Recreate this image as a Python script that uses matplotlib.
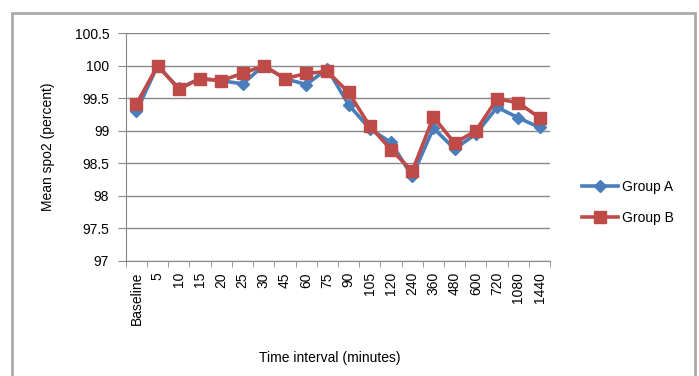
import numpy as np
import matplotlib.pyplot as plt
from matplotlib.patches import Rectangle

# ----------------------------------------
# Mean SpO2 per time interval
intervals = ['Baseline', '5', '10', '15', '20', '25', '30', '45', '60', '75',
             '90', '105', '120', '240', '360', '480', '600', '720', '1080', '1440']
group_a = [99.30, 100.0, 99.65, 99.80, 99.77, 99.72, 100.0, 99.80, 99.71, 99.95,
           99.40, 99.03, 98.82, 98.30, 99.04, 98.72, 98.95, 99.36, 99.20, 99.05]
group_b = [99.41, 100.0, 99.64, 99.80, 99.77, 99.88, 100.0, 99.80, 99.88, 99.91,
           99.59, 99.07, 98.71, 98.38, 99.21, 98.81, 99.00, 99.49, 99.43, 99.20]
y_ticks = [97, 97.5, 98, 98.5, 99, 99.5, 100, 100.5]

blue = '#4a7ebb'
red = '#be4b48'
grey = '#888888'

plt.rcParams['font.family'] = ['Liberation Sans', 'DejaVu Sans']

fig = plt.figure(figsize=(6.99, 3.76), dpi=100)
ax = fig.add_axes([0.180, 0.306, 0.607, 0.606])

x = np.arange(len(intervals))
ax.plot(x, group_a, color=blue, lw=2.6, marker='D', ms=6, label='Group A')
ax.plot(x, group_b, color=red, lw=2.6, marker='s', ms=9, label='Group B')

ax.set_ylim(97, 100.5)
ax.set_yticks(y_ticks)
ax.set_yticklabels([f'{v:g}' for v in y_ticks], fontsize=10)
ax.set_xlim(-0.5, len(intervals) - 0.5)
ax.set_xticks(x)
ax.set_xticklabels(intervals, rotation=90, fontsize=10)
ax.set_xticks(np.arange(-0.5, len(intervals)), minor=True)
ax.tick_params(axis='x', which='major', length=0, pad=8)
ax.tick_params(axis='x', which='minor', length=4, color=grey)
ax.tick_params(axis='y', length=6, color=grey, pad=6)

ax.grid(axis='y', color=grey, lw=1)
ax.set_axisbelow(True)
for side in ['top', 'right']:
    ax.spines[side].set_visible(False)
ax.spines['left'].set_color(grey)
ax.spines['bottom'].set_color(grey)

ax.set_ylabel('Mean spo2 (percent)', fontsize=10, labelpad=14)
fig.text(0.472, 0.048, 'Time interval (minutes)', ha='center', va='center', fontsize=10)

fig.legend(loc='center left', bbox_to_anchor=(0.815, 0.462), frameon=False,
           fontsize=10, handlelength=2.6, labelspacing=1.25, handletextpad=0.3)

# chart frame
fig.patches.append(Rectangle((12 / 699, -0.02), 683 / 699, 1.02 - 13 / 376,
                             transform=fig.transFigure, fill=False,
                             edgecolor='#aaaaaa', lw=2))

fig.savefig('out.png', dpi=100)
